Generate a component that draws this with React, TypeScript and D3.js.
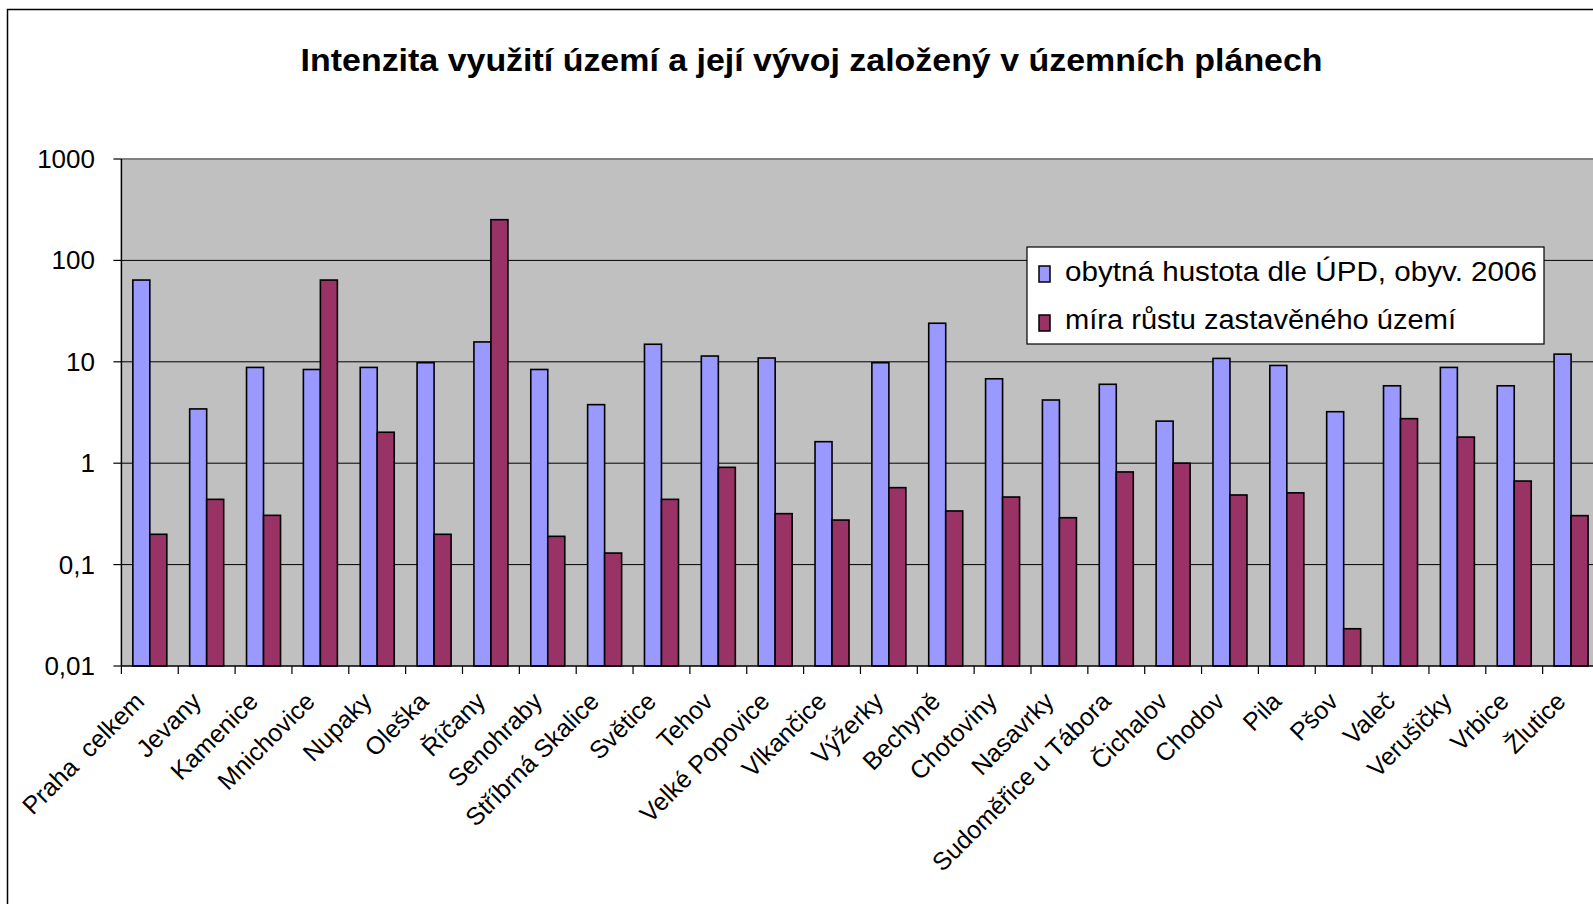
import { useEffect, useRef } from 'react';
import * as d3 from 'd3';

const categories = [
  'Praha\u00a0 celkem', 'Jevany', 'Kamenice', 'Mnichovice', 'Nupaky', 'Oleška', 'Říčany',
  'Senohraby', 'Stříbrná Skalice', 'Světice', 'Tehov', 'Velké Popovice', 'Vlkančice',
  'Výžerky', 'Bechyně', 'Chotoviny', 'Nasavrky', 'Sudoměřice u Tábora', 'Čichalov',
  'Chodov', 'Pila', 'Pšov', 'Valeč', 'Verušičky', 'Vrbice', 'Žlutice',
];

const hustota = [
  64, 3.43, 8.8, 8.4, 8.8, 9.8, 15.7, 8.4, 3.78, 14.9, 11.4, 10.9, 1.63,
  9.8, 24, 6.8, 4.2, 6.0, 2.6, 10.8, 9.2, 3.22, 5.8, 8.8, 5.8, 11.9,
];

const rust = [
  0.199, 0.44, 0.306, 64, 2.02, 0.199, 252, 0.19, 0.13, 0.44, 0.91, 0.318, 0.275,
  0.574, 0.338, 0.464, 0.29, 0.82, 1.0, 0.486, 0.51, 0.0233, 2.75, 1.81, 0.667, 0.304,
];

const seriesNames = ['obytná hustota dle ÚPD, obyv. 2006', 'míra růstu zastavěného území'];
const seriesColors = ['#9999FF', '#993366'];
const yTicks = [0.01, 0.1, 1, 10, 100, 1000];
const title = 'Intenzita využití území a její vývoj založený v územních plánech';

const W = 1593;
const H = 904;
const FONT = '"Liberation Sans", Arial, sans-serif';

export default function App() {
  const ref = useRef<SVGSVGElement>(null);

  useEffect(() => {
    document.body.style.margin = '0';
    const svg = d3.select(ref.current);
    svg.selectAll('*').remove();

    const left = 121.4;
    const step = 56.85;
    const top = 159;
    const bottom = 666;

    const x = d3.scaleBand<string>()
      .domain(categories)
      .range([left, left + step * categories.length])
      .padding(0);

    const xs = d3.scaleBand<number>()
      .domain([0, 1])
      .range([0, x.bandwidth()])
      .paddingInner(0)
      .paddingOuter(0.672);

    const y = d3.scaleLog().domain([0.01, 1000]).range([bottom, top]);

    // outer chart border
    svg.append('rect')
      .attr('x', 7.5).attr('y', 9.5)
      .attr('width', W + 20).attr('height', H + 20)
      .attr('fill', 'white').attr('stroke', 'black').attr('stroke-width', 1.5);

    svg.append('text')
      .attr('x', 811.6).attr('y', 71)
      .attr('text-anchor', 'middle')
      .attr('font-family', FONT).attr('font-weight', 'bold').attr('font-size', 32)
      .attr('textLength', 1022).attr('lengthAdjust', 'spacingAndGlyphs')
      .text(title);

    // plot area
    svg.append('rect')
      .attr('x', left).attr('y', top)
      .attr('width', step * categories.length + 10).attr('height', bottom - top)
      .attr('fill', '#C0C0C0');

    svg.append('line')
      .attr('x1', left).attr('x2', W + 10)
      .attr('y1', top).attr('y2', top)
      .attr('stroke', '#808080').attr('stroke-width', 2);

    svg.append('g').selectAll('line')
      .data(yTicks.filter((t) => t > 0.01 && t < 1000))
      .enter().append('line')
      .attr('x1', left).attr('x2', W + 10)
      .attr('y1', (d) => y(d)).attr('y2', (d) => y(d))
      .attr('stroke', 'black').attr('stroke-width', 1);

    // bars
    const groups = svg.append('g').selectAll('g')
      .data(categories)
      .enter().append('g')
      .attr('transform', (d) => `translate(${x(d)},0)`);

    groups.selectAll('rect')
      .data((_, i) => [hustota[i], rust[i]])
      .enter().append('rect')
      .attr('x', (_, j) => xs(j) || 0)
      .attr('y', (d) => y(d))
      .attr('width', xs.bandwidth())
      .attr('height', (d) => bottom - y(d))
      .attr('fill', (_, j) => seriesColors[j])
      .attr('stroke', 'black').attr('stroke-width', 1.6);

    // y axis
    svg.append('line')
      .attr('x1', left).attr('x2', left).attr('y1', top).attr('y2', bottom)
      .attr('stroke', 'black').attr('stroke-width', 1.5);

    const yAxis = svg.append('g');
    yAxis.selectAll('line')
      .data(yTicks).enter().append('line')
      .attr('x1', left - 8).attr('x2', left)
      .attr('y1', (d) => y(d)).attr('y2', (d) => y(d))
      .attr('stroke', 'black').attr('stroke-width', 1.2);
    yAxis.selectAll('text')
      .data(yTicks).enter().append('text')
      .attr('x', 95).attr('y', (d) => y(d) + 9)
      .attr('text-anchor', 'end')
      .attr('font-family', FONT).attr('font-size', 26)
      .text((d) => String(d).replace('.', ','));

    // x axis
    svg.append('line')
      .attr('x1', left).attr('x2', W + 10).attr('y1', bottom).attr('y2', bottom)
      .attr('stroke', 'black').attr('stroke-width', 1.5);

    const xAxis = svg.append('g');
    xAxis.selectAll('line')
      .data(categories).enter().append('line')
      .attr('x1', (d) => x(d) || 0).attr('x2', (d) => x(d) || 0)
      .attr('y1', bottom).attr('y2', bottom + 8)
      .attr('stroke', 'black').attr('stroke-width', 1.2);
    xAxis.selectAll('text')
      .data(categories).enter().append('text')
      .attr('transform', (d) => `translate(${(x(d) || 0) + x.bandwidth() / 2 - 4},${bottom + 37}) rotate(-45)`)
      .attr('text-anchor', 'end')
      .attr('font-family', FONT).attr('font-size', 25)
      .text((d) => d);

    // legend
    const lg = svg.append('g');
    lg.append('rect')
      .attr('x', 1027).attr('y', 247).attr('width', 517).attr('height', 97)
      .attr('fill', 'white').attr('stroke', 'black').attr('stroke-width', 1.2);
    const rows = [
      { sy: 266, ty: 281, len: 472 },
      { sy: 315, ty: 329, len: 391 },
    ];
    rows.forEach((r, i) => {
      lg.append('rect')
        .attr('x', 1039).attr('y', r.sy).attr('width', 11).attr('height', 16)
        .attr('fill', seriesColors[i]).attr('stroke', 'black').attr('stroke-width', 1.5);
      lg.append('text')
        .attr('x', 1065).attr('y', r.ty)
        .attr('font-family', FONT).attr('font-size', 27)
        .attr('textLength', r.len).attr('lengthAdjust', 'spacingAndGlyphs')
        .text(seriesNames[i]);
    });
  }, []);

  return <svg ref={ref} width={W} height={H} style={{ display: 'block' }} />;
}
